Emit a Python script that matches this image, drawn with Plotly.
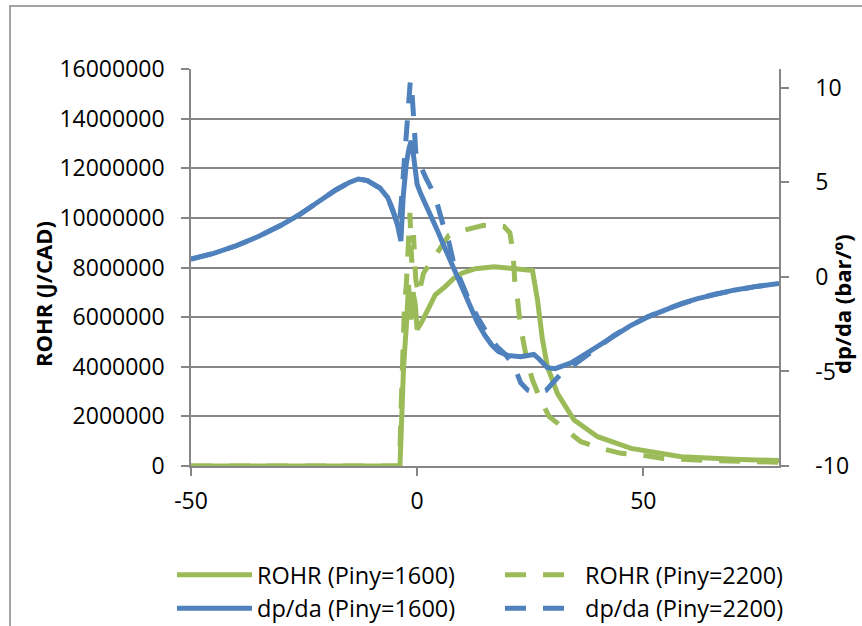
import plotly.graph_objects as go

# Crank angle (CAD) and rate of heat release (J/CAD), injection pressure 1600 bar
rohr_1600_x = [-50, -3.8, -3.5, -3.0, -2.3, -1.9, -1.4, -0.9, -0.4, 0.0, 1.0, 2.5, 4.0, 6.2, 8.0,
               9.9, 12.9, 17.0, 21.0, 25.5, 26.6, 27.7, 28.8, 31.0, 34.7, 39.9, 47.3, 58.4, 70, 80]
rohr_1600_y = [0, 0, 1.5e6, 4.0e6, 5.9e6, 7.3e6, 5.9e6, 7.0e6, 6.5e6, 5.5e6, 5.8e6, 6.4e6, 6.9e6,
               7.23e6, 7.55e6, 7.77e6, 7.95e6, 8.03e6, 7.97e6, 7.88e6, 6.7e6, 5.1e6, 4.0e6, 2.93e6,
               1.85e6, 1.18e6, 0.71e6, 0.37e6, 0.27e6, 0.22e6]

# Rate of heat release, injection pressure 2200 bar
rohr_2200_x = [-50, -3.9, -3.6, -3.2, -2.8, -2.4, -2.0, -1.6, -1.2, -0.8, -0.3, 0.3, 1.4, 4.0, 7.0,
               10.3, 14.7, 19.2, 20.5, 21.2, 21.6, 22.2, 22.8, 23.5, 24.4, 25.5, 27.3, 29.2, 32.9,
               36.2, 40.7, 45.1, 49.6, 54, 65, 80]
rohr_2200_y = [0, 0, 2.0e6, 4.5e6, 6.5e6, 7.3e6, 8.6e6, 10.2e6, 8.2e6, 9.3e6, 7.5e6, 6.9e6, 7.77e6,
               8.44e6, 9.3e6, 9.5e6, 9.7e6, 9.65e6, 9.4e6, 8.6e6, 7.4e6, 6.7e6, 5.7e6, 5.0e6, 4.14e6,
               3.47e6, 2.66e6, 1.99e6, 1.45e6, 0.98e6, 0.71e6, 0.51e6, 0.44e6, 0.31e6, 0.22e6, 0.15e6]

# Pressure derivative dp/da (bar/deg), 1600 bar
dpda_1600_x = [-50, -45, -40, -35, -30, -26, -22, -18, -15, -13, -11, -8.2, -6.5, -5.3, -4.3, -3.6,
               -3.1, -2.4, -1.8, -1.3, -0.9, -0.4, 0.0, 0.8, 1.8, 3.0, 4.5, 6.0, 7.5, 9.0, 10.5,
               12.0, 13.3, 15.0, 16.5, 18.0, 20.0, 22.9, 25.8, 27.0, 28.8, 30.5, 32.0, 34.0, 36.2,
               40.0, 43.6, 47.0, 51.0, 55.0, 58.4, 62.0, 66.0, 70.0, 75.0, 80.0]
dpda_1600_y = [0.94, 1.25, 1.65, 2.15, 2.75, 3.3, 3.95, 4.6, 5.0, 5.18, 5.1, 4.7, 4.2, 3.5, 2.7, 1.9,
               4.2, 6.0, 6.8, 7.2, 6.6, 5.8, 4.9, 4.4, 3.9, 3.2, 2.45, 1.6, 0.75, -0.1, -0.9,
               -1.7, -2.4, -3.1, -3.6, -3.95, -4.15, -4.22, -4.1, -4.35, -4.8, -4.85, -4.75, -4.55,
               -4.23, -3.65, -3.08, -2.6, -2.11, -1.7, -1.41, -1.15, -0.9, -0.7, -0.5, -0.35]

# Pressure derivative dp/da (bar/deg), 2200 bar
dpda_2200_x = [-50, -45, -40, -35, -30, -26, -22, -18, -15, -13, -11, -8.2, -6.5, -5.3, -4.5, -4.0,
               -3.5, -3.0, -2.5, -2.0, -1.5, -1.2, -0.8, -0.3, 0.3, 1.0, 2.0, 3.3, 4.4, 5.8, 7.0,
               8.1, 9.6, 11.4, 13.3, 15.5, 17.7, 19.5, 21.4, 22.9, 24.5, 26.6, 28.5, 29.9, 31.5,
               33.6, 37.0, 40.0, 43.6, 47.0, 51.0, 55.0, 58.4, 62.0, 66.0, 70.0, 75.0, 80.0]
dpda_2200_y = [0.94, 1.25, 1.65, 2.15, 2.75, 3.3, 3.95, 4.6, 5.0, 5.18, 5.1, 4.7, 4.2, 3.5, 2.9, 2.6,
               4.0, 5.8, 7.6, 9.0, 10.4, 10.0, 8.0, 6.6, 6.1, 5.7, 5.2, 4.6, 3.9, 2.7, 1.85,
               0.7, -0.2, -1.2, -2.1, -3.0, -3.7, -4.1, -4.67, -5.6, -6.0, -6.16, -6.0, -5.63, -5.2,
               -4.84, -4.23, -3.65, -3.08, -2.6, -2.11, -1.7, -1.41, -1.15, -0.9, -0.7, -0.5, -0.35]

x_ticks = [-50, 0, 50]
x_tick_text = ["-50", "0", "50"]
rohr_ticks = [0, 2e6, 4e6, 6e6, 8e6, 10e6, 12e6, 14e6, 16e6]
dpda_ticks = [-10, -5, 0, 5, 10]
dpda_tick_text = ["-10", "-5", "0", "5", "10"]

GREEN = "#9BBB59"
BLUE = "#4F81BD"
GREY = "#868686"
FONT = "Open Sans"
DASH = "21px,17px"
LW = 5

fig = go.Figure()
fig.add_trace(go.Scatter(x=rohr_1600_x, y=rohr_1600_y, mode="lines", name="ROHR (Piny=1600)",
                         line=dict(color=GREEN, width=LW), yaxis="y"))
fig.add_trace(go.Scatter(x=rohr_2200_x, y=rohr_2200_y, mode="lines", name="ROHR (Piny=2200)",
                         line=dict(color=GREEN, width=LW, dash=DASH), yaxis="y"))
fig.add_trace(go.Scatter(x=dpda_1600_x, y=dpda_1600_y, mode="lines", name="dp/da (Piny=1600)",
                         line=dict(color=BLUE, width=LW), yaxis="y2"))
fig.add_trace(go.Scatter(x=dpda_2200_x, y=dpda_2200_y, mode="lines", name="dp/da (Piny=2200)",
                         line=dict(color=BLUE, width=LW, dash=DASH), yaxis="y2"))

L, R, T, B = 191, 83, 69, 160
W, H = 862, 626
pw, ph = W - L - R, H - T - B


def px(xp):
    return (xp - L) / pw


def py(yp):
    return (H - B - yp) / ph


fig.update_layout(
    width=W, height=H,
    margin=dict(l=L, r=R, t=T, b=B, pad=0, autoexpand=False),
    paper_bgcolor="white", plot_bgcolor="white",
    font=dict(family=FONT, size=23, color="black"),
    xaxis=dict(range=[-50, 80], tickvals=x_ticks, ticktext=x_tick_text, ticks="outside",
               ticklen=8, tickcolor=GREY, tickwidth=1.5, showline=True, linecolor=GREY,
               linewidth=1.5, showgrid=False, zeroline=False, ticklabelstandoff=6),
    yaxis=dict(range=[0, 16e6], tickvals=rohr_ticks, tickformat="d", ticks="outside", ticklen=8,
               tickcolor=GREY, tickwidth=1.5, showline=True, linecolor=GREY, linewidth=1.5,
               showgrid=True, gridcolor=GREY, gridwidth=1.5, zeroline=False,
               ticklabelstandoff=12),
    yaxis2=dict(range=[-10, 11], tickvals=dpda_ticks, ticktext=dpda_tick_text, overlaying="y",
                side="right", ticks="outside", ticklen=8, tickcolor=GREY, tickwidth=1.5,
                showline=True, linecolor=GREY, linewidth=1.5, showgrid=False, zeroline=False,
                ticklabelstandoff=22),
    showlegend=True,
    legend=dict(orientation="h", x=px(172), xanchor="left", y=py(553), yanchor="top",
                entrywidth=238, font=dict(family=FONT, size=23.5), itemwidth=75,
                bgcolor="rgba(0,0,0,0)", tracegroupgap=0),
    shapes=[dict(type="rect", xref="paper", yref="paper", x0=px(10), y0=py(640), x1=px(880),
                 y1=py(6), line=dict(color=GREY, width=1.5), layer="below")],
    annotations=[
        dict(text="<b>ROHR (J/CAD)</b>", xref="paper", yref="paper", x=px(43), y=py(294),
             xanchor="center", yanchor="middle", textangle=-90, showarrow=False,
             font=dict(family=FONT, size=22)),
        dict(text="<b>dp/da (bar/º)</b>", xref="paper", yref="paper", x=px(842), y=py(304),
             xanchor="center", yanchor="middle", textangle=-90, showarrow=False,
             font=dict(family=FONT, size=22)),
    ],
)

fig.write_html("out.html")
